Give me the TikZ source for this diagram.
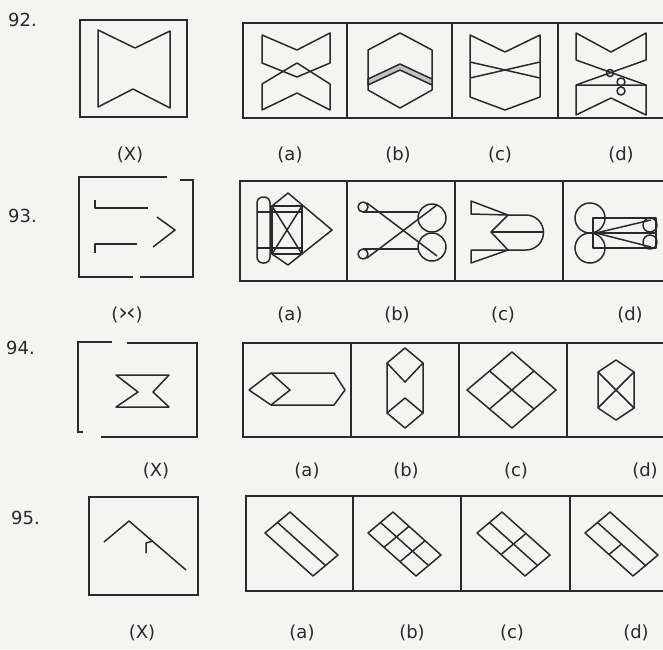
\documentclass[tikz,border=0pt]{standalone}
\usepackage{fontspec}
\setmainfont{DejaVu Sans}
\usetikzlibrary{calc}
\definecolor{ink}{HTML}{2A2A2A}
\definecolor{paper}{HTML}{F4F4F2}
\definecolor{shade}{HTML}{9A9A9A}
\tikzset{
    fig/.style={draw=ink, line width=1.5pt, line join=round},
    frame/.style={draw=ink, line width=2pt},
    lbl/.style={font=\fontsize{18}{20}\selectfont, text=ink, inner sep=0pt},
    qno/.style={lbl, anchor=west},
    slab/.style={x={(48pt,-43pt)}, y={(-25pt,-21pt)}}
}
\begin{document}
\begin{tikzpicture}[x=1pt, y=-1pt]
\fill[paper] (0,0) rectangle (663,649);
\useasboundingbox (0,0) rectangle (663,649);

% question 92
\node[qno] (q92) at (8,20) {92.};
\draw[frame] (80,20) rectangle (187,117);
\draw[fig] (98,30) -- (135,48) -- (170,31) -- (170,108) -- (133,89) -- (98,107) -- cycle;
\draw[frame] (663,23) -- (243,23) -- (243,118) -- (663,118);
\foreach \x in {347,452,558} \draw[frame] (\x,23) -- (\x,118);
% 92 (a)
\draw[fig] (262,35) -- (297,50) -- (330,33) -- (330,63) -- (297,77) -- (262,63) -- cycle;
\draw[fig] (262,84) -- (297,63) -- (330,84) -- (330,110) -- (297,93) -- (262,110) -- cycle;
% 92 (b)
\draw[fig] (400,33) -- (432,50) -- (432,90) -- (400,108) -- (368,90) -- (368,50) -- cycle;
\draw[fig, fill=shade!60] (368,79) -- (400,64) -- (432,79) -- (432,85) -- (400,70) -- (368,85) -- cycle;
% 92 (c)
\draw[fig] (470,35) -- (505,52) -- (540,35) -- (540,97) -- (505,110) -- (470,97) -- cycle;
\draw[fig] (470,62) -- (540,78);
\draw[fig] (540,62) -- (470,78);
% 92 (d)
\draw[fig] (576,60) -- (576,33) -- (611,52) -- (646,33) -- (646,60);
\draw[fig] (576,60) -- (646,85);
\draw[fig] (646,60) -- (576,85);
\draw[fig] (646,85) -- (576,85) -- (576,115) -- (611,98) -- (646,115) -- cycle;
\draw[fig] (610,73) circle (3.5);
\draw[fig] (621,82) circle (4);
\draw[fig] (621,91) circle (4);
\node[lbl] (x92) at (130,155) {(X)};
\node[lbl] (a92) at (290,155) {(a)};
\node[lbl] (b92) at (398,155) {(b)};
\node[lbl] (c92) at (500,155) {(c)};
\node[lbl] (d92) at (621,155) {(d)};

% question 93
\node[qno] (q93) at (8,216) {93.};
\draw[frame] (167,177) -- (79,177) -- (79,277) -- (133,277);
\draw[frame] (180,180) -- (193,180) -- (193,277) -- (140,277);
\draw[fig] (95,200) -- (95,208) -- (148,208);
\draw[fig] (157,217) -- (175,230) -- (153,247);
\draw[fig] (137,244) -- (95,244) -- (95,253);
\draw[frame] (663,181) -- (240,181) -- (240,281) -- (663,281);
\foreach \x in {347,455,563} \draw[frame] (\x,181) -- (\x,281);
% 93 (a)
\draw[fig, rounded corners=6pt] (257,197) rectangle (270,263);
\draw[fig] (272,206) rectangle (302,254);
\draw[fig] (272,206) -- (302,254);
\draw[fig] (302,206) -- (272,254);
\draw[fig] (257,212) -- (302,212);
\draw[fig] (257,248) -- (302,248);
\draw[fig] (272,206) -- (288,193) -- (332,230) -- (288,265) -- (272,254);
% 93 (b)
\draw[fig] (363,207) circle (5);
\draw[fig] (363,254) circle (5);
\draw[fig] (363,212) -- (418,212);
\draw[fig] (363,249) -- (418,249);
\draw[fig] (367,203) -- (437,256);
\draw[fig] (367,258) -- (437,205);
\draw[fig] (432,218) circle (14);
\draw[fig] (432,247) circle (14);
% 93 (c)
\draw[fig] (471,201) -- (471,214) -- (508,215) -- cycle;
\draw[fig] (508,215) -- (491,232) -- (508,250);
\draw[fig] (491,232) -- (543,232);
\draw[fig] (508,215) -- (526,215) arc[start angle=-90, end angle=90, radius=17.5] -- (508,250);
\draw[fig] (471,263) -- (471,250) -- (508,250) -- cycle;
% 93 (d)
\draw[fig] (590,218) circle (15);
\draw[fig] (590,248) circle (15);
\draw[fig] (593,218) rectangle (656,248);
\draw[fig] (650,225) circle (7);
\draw[fig] (650,242) circle (7);
\draw[fig] (593,233) -- (656,233);
\draw[fig] (596,233) -- (651,220);
\draw[fig] (596,233) -- (651,247);
\node[lbl] (x93) at (127,315) {({\fontsize{24}{24}\selectfont ›\kern-2pt‹})};
\node[lbl] (a93) at (290,315) {(a)};
\node[lbl] (b93) at (397,315) {(b)};
\node[lbl] (c93) at (503,315) {(c)};
\node[lbl] (d93) at (630,315) {(d)};

% question 94
\node[qno] (q94) at (6,348) {94.};
\draw[frame] (112,342) -- (78,342) -- (78,432) -- (83,432);
\draw[frame] (127,343) -- (197,343) -- (197,437) -- (101,437);
\draw[fig] (116,375) -- (169,375) -- (153,392) -- (169,407) -- (116,407) -- (138,392) -- cycle;
\draw[frame] (663,343) -- (243,343) -- (243,437) -- (663,437);
\foreach \x in {351,459,567} \draw[frame] (\x,343) -- (\x,437);
% 94 (a)
\draw[fig] (271,373) -- (249,390) -- (271,405);
\draw[fig] (271,373) -- (290,390) -- (271,405);
\draw[fig] (271,373) -- (334,373) -- (345,390) -- (334,405) -- (271,405);
% 94 (b)
\draw[fig] (405,348) -- (423,363) -- (423,413) -- (405,428) -- (387,413) -- (387,363) -- cycle;
\draw[fig] (387,363) -- (405,382) -- (423,363);
\draw[fig] (387,413) -- (405,398) -- (423,413);
% 94 (c)
\draw[fig] (512,352) -- (556,390) -- (512,428) -- (467,390) -- cycle;
\draw[fig] (489.5,371) -- (534,409);
\draw[fig] (534,371) -- (489.5,409);
% 94 (d)
\draw[fig] (616,360) -- (634,372) -- (634,408) -- (616,420) -- (598,408) -- (598,372) -- cycle;
\draw[fig] (598,372) -- (634,408);
\draw[fig] (634,372) -- (598,408);
\node[lbl] (x94) at (156,471) {(X)};
\node[lbl] (a94) at (307,471) {(a)};
\node[lbl] (b94) at (406,471) {(b)};
\node[lbl] (c94) at (516,471) {(c)};
\node[lbl] (d94) at (645,471) {(d)};

% question 95
\node[qno] (q95) at (11,518) {95.};
\draw[frame] (89,497) rectangle (198,595);
\draw[fig] (104,542) -- (129,521) -- (186,570);
\draw[fig] (146,553) -- (146,543) -- (153,541);
\draw[frame] (663,496) -- (246,496) -- (246,591) -- (663,591);
\foreach \x in {353,461,570} \draw[frame] (\x,496) -- (\x,591);
% 95 (a)
\begin{scope}[shift={(290,512)}, slab]
  \draw[fig] (0,0) -- (1,0) -- (1,1) -- (0,1) -- cycle;
  \draw[fig] (0,0.5) -- (1,0.5);
\end{scope}
% 95 (b)
\begin{scope}[shift={(393,512)}, slab]
  \draw[fig] (0,0) -- (1,0) -- (1,1) -- (0,1) -- cycle;
  \draw[fig] (0,0.5) -- (1,0.5);
  \foreach \s in {0.333,0.667} \draw[fig] (\s,0) -- (\s,1);
\end{scope}
% 95 (c)
\begin{scope}[shift={(502,512)}, slab]
  \draw[fig] (0,0) -- (1,0) -- (1,1) -- (0,1) -- cycle;
  \draw[fig] (0,0.5) -- (1,0.5);
  \draw[fig] (0.5,0) -- (0.5,1);
\end{scope}
% 95 (d)
\begin{scope}[shift={(610,512)}, slab]
  \draw[fig] (0,0) -- (1,0) -- (1,1) -- (0,1) -- cycle;
  \draw[fig] (0,0.5) -- (1,0.5);
  \draw[fig] (0.5,0.5) -- (0.5,1);
\end{scope}
\node[lbl] (x95) at (142,633) {(X)};
\node[lbl] (a95) at (302,633) {(a)};
\node[lbl] (b95) at (412,633) {(b)};
\node[lbl] (c95) at (512,633) {(c)};
\node[lbl] (d95) at (636,633) {(d)};
\end{tikzpicture}
\end{document}
